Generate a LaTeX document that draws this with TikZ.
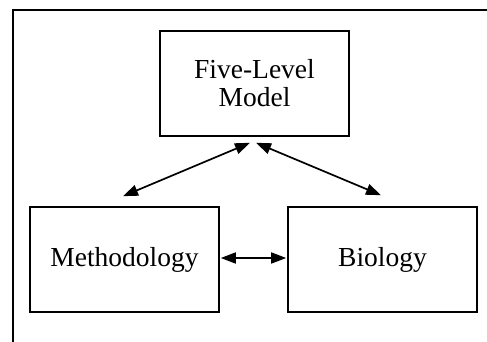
\documentclass[tikz,border=0pt]{standalone}
\usepackage{fontspec}
\setmainfont{Liberation Serif}
\usetikzlibrary{arrows.meta}
\begin{document}
\begin{tikzpicture}[x=1pt,y=-1pt,
  box/.style={draw, line width=1.6pt, minimum width=189pt, minimum height=105pt, inner sep=0pt, align=center, font=\fontsize{27.5}{28}\selectfont},
  conn/.style={line width=1.7pt, {Triangle[length=15pt,width=11pt]}-{Triangle[length=15pt,width=11pt]}},
  frame/.style={line width=1.6pt}]
\useasboundingbox (0,0) rectangle (487,342);
\coordinate (f1) at (13,342);
\coordinate (f2) at (13,10);
\coordinate (f3) at (487,10);
\draw[frame] (f1) -- (f2) -- (f3);
\node[box] (top) at (254.5,83.5) {Five-Level\\Model};
\node[box] (meth) at (124.5,259.5) {Methodology};
\node[box] (bio) at (382.5,259.5) {Biology};
\coordinate (a1) at ([shift={(-1.5,-10)}]meth.north);
\coordinate (a2) at ([shift={(-4.5,6)}]top.south);
\coordinate (b1) at ([shift={(1.5,6)}]top.south);
\coordinate (b2) at ([shift={(-1.5,-11)}]bio.north);
\draw[conn] (a1) -- (a2);
\draw[conn] (b1) -- (b2);
\draw[conn, shorten <=1pt, shorten >=1pt] ([yshift=1.5pt]meth.east) -- ([yshift=1.5pt]bio.west);
\end{tikzpicture}
\end{document}
